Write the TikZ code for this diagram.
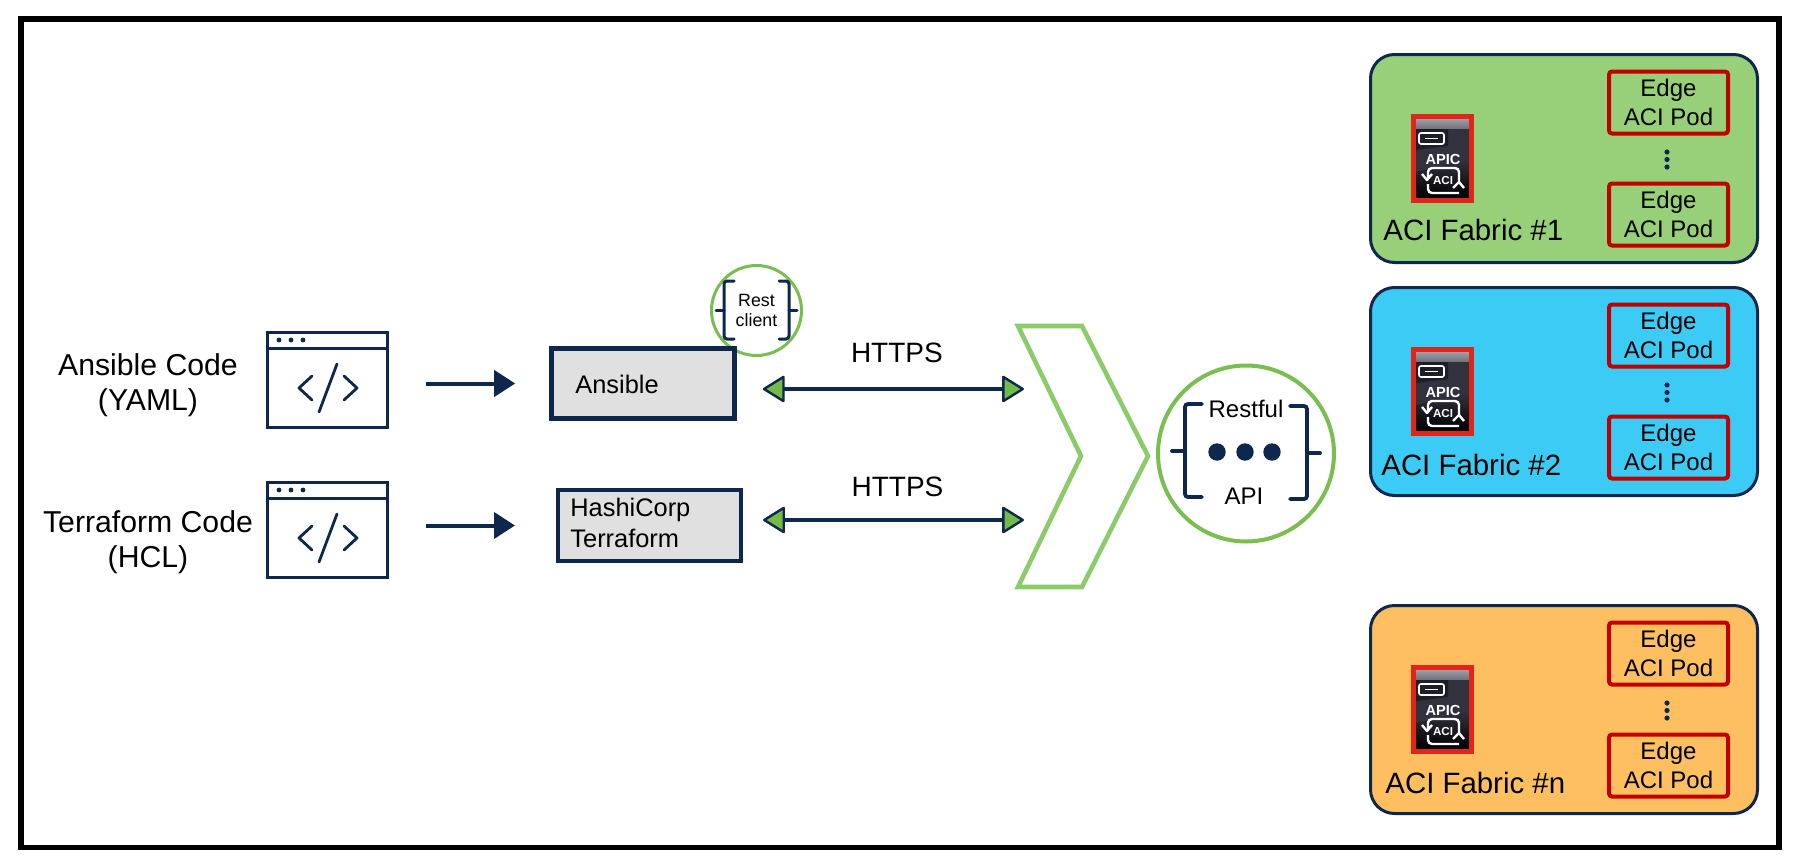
\documentclass[tikz,border=0pt]{standalone}
\usepackage{fontspec}
\setmainfont{Liberation Sans}
\usepackage{xcolor}
\usetikzlibrary{arrows.meta}
\usetikzlibrary{positioning}
\usetikzlibrary{calc}

\definecolor{navy}{HTML}{0D274D}
\definecolor{tipgreen}{HTML}{72BB48}
\definecolor{ringgreen}{HTML}{78BE50}
\definecolor{chevgreen}{HTML}{8CCB6A}
\definecolor{fabgreen}{HTML}{98D07A}
\definecolor{fabblue}{HTML}{3CCBF4}
\definecolor{faborange}{HTML}{FDBF60}
\definecolor{podred}{HTML}{C00000}
\definecolor{iconred}{HTML}{E0251B}
\definecolor{iconband}{HTML}{74747E}
\definecolor{iconbody}{HTML}{32323F}
\definecolor{iconslot}{HTML}{1E1E28}
\definecolor{toolgray}{HTML}{E0E0E0}

\tikzset{
  codelabel/.style={align=center, font=\fontsize{15.1}{17.5}\selectfont},
  codewin/.style={draw=navy, line width=1.5pt, minimum width=60pt, minimum height=47.5pt, inner sep=0pt},
  toolbox/.style={draw=navy, fill=toolgray, inner sep=0pt},
  tooltext/.style={align=left, inner sep=0pt, font=\fontsize{12.7}{15.5}\selectfont},
  apitext/.style={inner sep=0pt, font=\fontsize{12}{14}\selectfont},
  codearrow/.style={-{Triangle[length=10.5pt,width=13pt]}, line width=2pt, navy},
  httpsarrow/.style={{Triangle[length=11.5pt,width=14pt,fill=tipgreen,line width=1.2pt,round]}-{Triangle[length=11.5pt,width=14pt,fill=tipgreen,line width=1.2pt,round]}, line width=1.8pt, navy},
  httpslabel/.style={text=black, font=\fontsize{14}{16}\selectfont, anchor=base},
  bracket/.style={draw=navy, line cap=round, rounded corners=1.5pt},
  fabricbox/.style={draw=navy, line width=1.5pt, rounded corners=12pt, minimum width=193.5pt, minimum height=104pt, inner sep=0pt},
  podbox/.style={draw=podred, line width=2pt, rounded corners=1.5pt, minimum width=59.5pt, minimum height=31pt, inner sep=0pt, align=center, font=\fontsize{12}{14.5}\selectfont},
}

\begin{document}
\begin{tikzpicture}[x=0.5pt, y=-0.5pt]
\useasboundingbox (0,0) rectangle (1800,867);
\node[draw=black, line width=2.8pt, minimum width=879pt, minimum height=414.3pt, inner sep=0pt] (frame) at (900,433.3) {};

%Code
\node[codelabel] (ansiblelabel) at (148,385) {Ansible Code\\(YAML)};
\node[codelabel] (terraformlabel) at (148,542) {Terraform Code\\(HCL)};
\foreach \yoff/\nm in {0/A,150/B} {
  \begin{scope}[shift={(0,\yoff)}]
    \node[codewin] (codewin\nm) at (327.5,380) {};
    \draw[navy, line width=1.5pt] (codewin\nm.west |- 0,348) -- (codewin\nm.east |- 0,348);
    \foreach \i in {279,291,303}
      \fill[navy] (\i,340) circle[radius=2.4];
    \draw[navy, line width=1.4pt, line cap=round, line join=round] (312,376) -- (299,388) -- (312,400);
    \draw[navy, line width=1.4pt, line cap=round, line join=round] (344,376) -- (357,388) -- (344,400);
    \draw[navy, line width=1.4pt, line cap=round] (337,364) -- (319,412);
  \end{scope}
}

%Tools
\node[circle, draw=ringgreen, line width=1.5pt, minimum size=45pt, inner sep=0pt, align=center, font=\fontsize{8.9}{10}\selectfont] (restclient) at (756.5,310.5) {Rest\\client};
\draw[bracket, line width=1.5pt] (734,281) -- (724,281) -- (724,339) -- (734,339);
\draw[navy, line width=1.5pt, line cap=round] (716,310) -- (724,310);
\draw[bracket, line width=1.5pt] (779,281) -- (789,281) -- (789,339) -- (779,339);
\draw[navy, line width=1.5pt, line cap=round] (789,310) -- (797,310);

\node[toolbox, line width=2.3pt, minimum width=91.5pt, minimum height=35pt] (ansible) at (643,383.5) {};
\node[tooltext, anchor=base west] (ansibletext) at (575,393) {Ansible};
\node[toolbox, line width=2pt, minimum width=91.5pt, minimum height=35.5pt] (terraform) at (649.5,525.5) {};
\node[tooltext, anchor=west] (terraformtext) at (570,523) {HashiCorp\\Terraform};

\draw[codearrow, shorten <=18.5pt, shorten >=17pt] (codewinA.east |- ansible.west) -- (ansible.west);
\draw[codearrow, shorten <=18.5pt, shorten >=20.5pt] (codewinB.east |- terraform.west) -- (terraform.west);

%Gateway
\coordinate (gateA) at (1024,389);
\coordinate (gateB) at (1024,520);
\draw[httpsarrow, shorten <=13pt] (ansible.east |- gateA) -- node[httpslabel, yshift=13.5pt, xshift=8.25pt] (httpsA) {HTTPS} (gateA);
\draw[httpsarrow, shorten <=10pt] (terraform.east |- gateB) -- node[httpslabel, yshift=12pt, xshift=7pt] (httpsB) {HTTPS} (gateB);
\draw[chevgreen, line width=2.3pt, miter limit=4] (1018,326) -- (1082,326) -- (1148,456) -- (1082,587) -- (1018,587) -- (1081,456) -- cycle;

\node[circle, draw=ringgreen, line width=2pt, minimum size=88pt, inner sep=0pt] (restapi) at (1246,453.5) {};
\node[apitext, anchor=base] (restful) at (1246,417) {Restful};
\node[apitext, anchor=base] (api) at (1244,504) {API};
\draw[bracket, line width=1.9pt] (1202,404) -- (1185,404) -- (1185,497) -- (1202,497);
\draw[navy, line width=1.9pt, line cap=round] (1172,451) -- (1185,451);
\draw[bracket, line width=1.9pt] (1290,406) -- (1307,406) -- (1307,499) -- (1290,499);
\draw[navy, line width=1.9pt, line cap=round] (1307,453) -- (1320,453);
\foreach \i in {1217,1245,1272}
  \fill[navy] (\i,452) circle[radius=8.7];

%Fabrics
\foreach \yoff/\col/\lab/\lx/\ly in {0/fabgreen/1/1383/240,233/fabblue/2/1381/242,551/faborange/n/1385/242} {
  \begin{scope}[shift={(0,\yoff)}]
    \node[fabricbox, fill=\col] (fabric\lab) at (1564,158.5) {};
    \node[podbox] (podtop\lab) at (1668.5,102.5) {Edge\\ACI Pod};
    \node[podbox] (podbot\lab) at (1668.5,214.5) {Edge\\ACI Pod};
    \foreach \i in {152,159.5,167}
      \fill[navy] (1667,\i) circle[radius=2.6];
    \node[anchor=base west, inner sep=0pt, font=\fontsize{14.7}{17}\selectfont] (fablabel\lab) at (\lx,\ly) {ACI Fabric \#\lab};
    % APIC box
    \fill[iconbody] (1416,119) rectangle (1469,198);
    \shade[top color=iconbody, bottom color=black] (1416,172) -- (1469,160) -- (1469,198) -- (1416,198) -- cycle;
    \fill[iconslot] (1416,128) -- (1448,128) -- (1448,146) -- (1416,150) -- cycle;
    \shade[top color=iconband!70!white, bottom color=iconband] (1416,119) rectangle (1469,128);
    \draw[iconred, line width=2.5pt] (1413.5,116.5) rectangle (1471.5,200.5);
    \draw[white, line width=0.8pt, rounded corners=1pt] (1419,133) rectangle (1444,144);
    \draw[white, line width=0.8pt] (1425,138.5) -- (1438,138.5);
    \node[white, inner sep=0pt, font=\bfseries\fontsize{7.3}{8}\selectfont] (apic\lab) at (1443,159) {APIC};
    \node[white, inner sep=0pt, font=\bfseries\fontsize{5.8}{6}\selectfont] (aci\lab) at (1443,181) {ACI};
    \draw[white, line width=1.2pt, rounded corners=2pt] (1428,178) -- (1428,168) -- (1459,168) -- (1459,183);
    \draw[white, line width=1.2pt, rounded corners=2pt] (1459,193) -- (1428,193) -- (1428,184);
    \draw[white, line width=1.2pt, line join=round] (1422,174) -- (1427,180) -- (1432,174);
    \draw[white, line width=1.2pt, line join=round] (1453,188) -- (1459,182) -- (1464,188);
  \end{scope}
}
\end{tikzpicture}
\end{document}
